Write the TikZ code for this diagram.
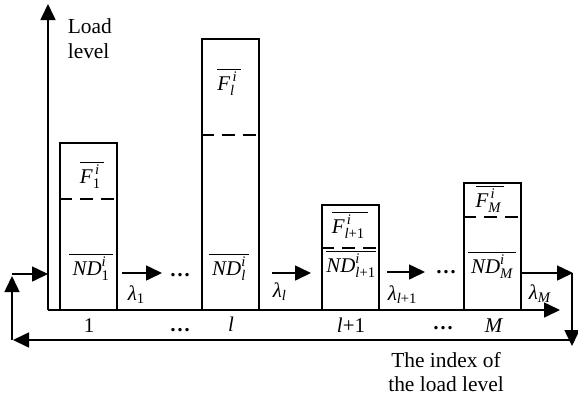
\documentclass[tikz,border=0pt]{standalone}
\usepackage{amsmath}
\usepackage{fontspec}
\setmainfont{Liberation Serif}
\usetikzlibrary{arrows.meta}
\newcommand{\mi}[1]{\textit{#1}}
\begin{document}
\begin{tikzpicture}[x=1bp,y=-1bp,
  line width=1.6bp,
  tip/.style={-{Triangle[length=16bp,width=15bp]}},
  bar/.style={draw,line width=1.6bp,minimum width=57bp,inner sep=0pt,outer sep=0pt},
  dsh/.style={dash pattern=on 13bp off 8bp, dash phase=1bp},
  lab/.style={font=\fontsize{21}{24}\selectfont,inner sep=0pt,anchor=base},
  txt/.style={font=\fontsize{21.5}{24}\selectfont,inner sep=0pt,align=center}]
\useasboundingbox (0,0) rectangle (578,397);
% axes
\coordinate (O) at (48,310);
\coordinate (ytop) at (48,4);
\coordinate (xend) at (560,310);
\draw[tip] (O) -- (ytop);
\draw[tip] (O) -- (xend);
\node[txt,align=left,anchor=base west,font=\fontsize{21.5}{25}\selectfont] (yl) at (67,58) {Load\\level};
% bars
\node[bar,minimum height=167bp] (b1) at (88.5,226.5) {};
\node[bar,minimum height=271bp] (b2) at (230.5,174.5) {};
\node[bar,minimum height=105bp] (b3) at (350.5,257.5) {};
\node[bar,minimum height=127bp] (b4) at (492.5,246.5) {};
\draw[dsh] (b1.west |- 0,199) -- (b1.east |- 0,199);
\draw[dsh] (b2.west |- 0,135) -- (b2.east |- 0,135);
\draw[dsh] (b3.west |- 0,248) -- (b3.east |- 0,248);
\draw[dsh] (b4.west |- 0,217) -- (b4.east |- 0,217);
% labels in bars
\node[lab] (f1) at (92,183) {$\overline{\mi{F}^{\,\mi{i}}_{\text{1}}\,}$};
\node[lab] (f2) at (229,90) {$\overline{\mi{F}^{\,\mi{i}}_{\mi{l}}\,}$};
\node[lab] (f3) at (350,233) {$\overline{\mi{F}^{\,\mi{i}}_{\mi{l}\text{+1}}\,}$};
\node[lab] (f4) at (490,207) {$\overline{\mi{F}^{\,\mi{i}}_{\mi{M}}\,}$};
\node[lab] (n1) at (91,275) {$\overline{\,\mi{ND}^{\mi{i}}_{\text{1}}\,}$};
\node[lab] (n2) at (229,275) {$\overline{\,\mi{ND}^{\mi{i}}_{\mi{l}}\,}$};
\node[lab] (n3) at (351,272) {$\overline{\mi{ND}^{\mi{i}}_{\mi{l}\text{+1}}}$};
\node[lab] (n4) at (492,273) {$\overline{\,\mi{ND}^{\mi{i}}_{\mi{M}}\,}$};
% transition arrows
\coordinate (a1s) at (122,273); \coordinate (a1e) at (162,273);
\coordinate (a2s) at (272,273); \coordinate (a2e) at (311,273);
\coordinate (a3s) at (387,272); \coordinate (a3e) at (425,272);
\draw[tip] (a1s) -- (a1e);
\draw[tip] (a2s) -- (a2e);
\draw[tip] (a3s) -- (a3e);
\node[lab,anchor=base west] (l1) at (127,300) {$\mi{λ}_{\text{1}}$};
\node[lab,anchor=base west] (l2) at (272,297) {$\mi{λ}_{\mi{l}}$};
\node[lab,anchor=base west] (l3) at (387,300) {$\mi{λ}_{\mi{l}\text{+1}}$};
\node[lab,anchor=base west] (l4) at (528,299) {$\mi{λ}_{\mi{M}}$};
\node[lab] (d1) at (180,276) {\textbf{…}};
\node[lab] (d2) at (446,273) {\textbf{…}};
% feedback loop
\coordinate (r1) at (573,273);
\coordinate (r2) at (572,273);
\coordinate (r3) at (572,346);
\coordinate (r4) at (572,340);
\coordinate (l5) at (13,340);
\coordinate (l6) at (12,340);
\coordinate (l7) at (12,276);
\coordinate (l8) at (12,274);
\coordinate (l9) at (48,274);
\draw[tip] (b4.east |- r1) -- (r1);
\draw[tip] (r2) -- (r3);
\draw[tip] (r4) -- (l5);
\draw[tip] (l6) -- (l7);
\draw[tip] (l8) -- (l9);
% index labels
\node[lab] (i1) at (89,332) {1};
\node[lab] (i2) at (180,331) {\textbf{…}};
\node[lab] (i3) at (231,331) {\textit{l}};
\node[lab] (i4) at (351,332) {\textit{l}+1};
\node[lab] (i5) at (443,329) {\textbf{…}};
\node[lab] (i6) at (494,332) {\textit{M}};
\node[txt,anchor=base] (xl) at (446,391) {The index of\\the load level};
\end{tikzpicture}
\end{document}
